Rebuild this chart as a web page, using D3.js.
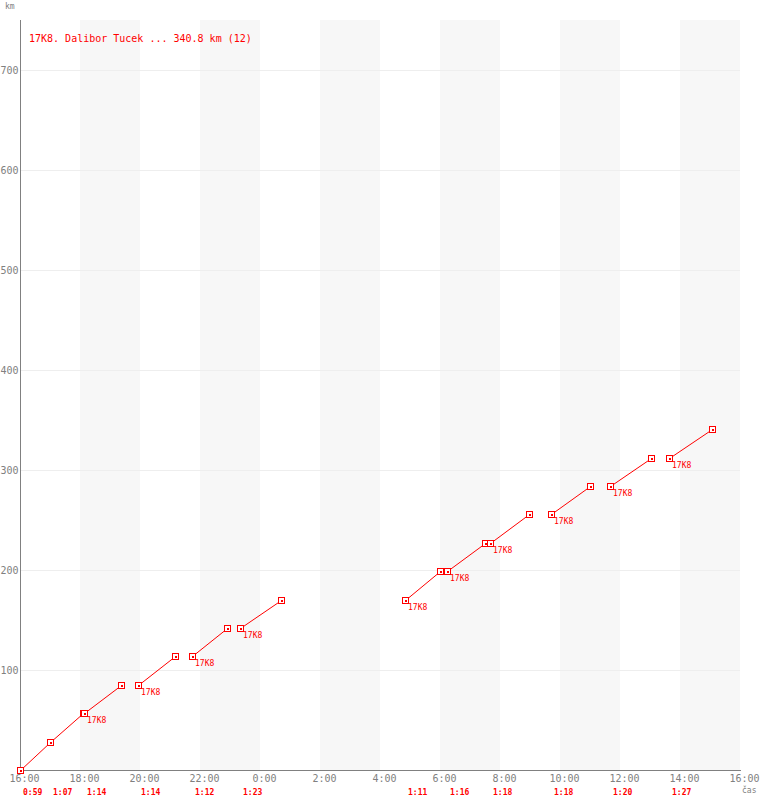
<!DOCTYPE html>
<html>
<head>
<meta charset="utf-8">
<script src="https://cdn.jsdelivr.net/npm/d3@7"></script>
<style>
  html, body { margin: 0; padding: 0; background: #fff; }
  svg { display: block; }
  text { font-family: "DejaVu Sans Mono", "Liberation Mono", monospace; }
</style>
</head>
<body>
<svg id="chart" width="760" height="800"></svg>
<script>
// ---- data ----
const title = "17K8. Dalibor Tucek ... 340.8 km (12)";
const pointLabel = "17K8";
const lapStarts = ["16:00","16:59","18:07","19:55","21:43","23:19","4:49","6:13","7:39","9:41","11:41","13:37"];
const lapTimes  = ["0:59","1:07","1:14","1:14","1:12","1:23","1:11","1:16","1:18","1:18","1:20","1:27"];
const lapStartKm = [0, 28.4, 56.8, 85.2, 113.6, 142.0, 170.4, 198.8, 227.2, 255.6, 284.0, 312.4];
const lapEndKm   = [28.4, 56.8, 85.2, 113.6, 142.0, 170.4, 198.8, 227.2, 255.6, 284.0, 312.4, 340.8];
const xTickLabels = ["16:00","18:00","20:00","22:00","0:00","2:00","4:00","6:00","8:00","10:00","12:00","14:00","16:00"];
const yTicks = [100, 200, 300, 400, 500, 600, 700];
const shadedBands = [["18:00","20:00"],["22:00","0:00"],["2:00","4:00"],["6:00","8:00"],["10:00","12:00"],["14:00","16:00"]];

// ---- helpers ----
function toDate(s, isEnd) {
  const [h, m] = s.split(":").map(Number);
  const day = (h < 16 || (isEnd && h === 16 && m === 0)) ? 2 : 1;
  return new Date(2000, 0, day, h, m);
}
function durMin(s) { const [h, m] = s.split(":").map(Number); return h * 60 + m; }

const mLeft = 20, mRight = 740, mTop = 20, mBottom = 770;
const x = d3.scaleTime()
  .domain([new Date(2000,0,1,16,0), new Date(2000,0,2,16,0)])
  .range([mLeft, mRight]);
const y = d3.scaleLinear().domain([0, 750]).range([mBottom, mTop]);

const svg = d3.select("#chart");
const red = "#ff0000", gray = "#808080";

// shaded bands
svg.append("g").selectAll("rect").data(shadedBands).join("rect")
  .attr("x", d => x(toDate(d[0], false)))
  .attr("y", mTop)
  .attr("width", d => x(toDate(d[1], true)) - x(toDate(d[0], false)))
  .attr("height", mBottom - mTop)
  .attr("fill", "#f7f7f7");

// gridlines
svg.append("g").selectAll("line").data(yTicks).join("line")
  .attr("x1", mLeft + 1).attr("x2", mRight)
  .attr("y1", d => Math.round(y(d)) + 0.5).attr("y2", d => Math.round(y(d)) + 0.5)
  .attr("stroke", "#eeeeee").attr("stroke-width", 1);

// axes
const yAxis = d3.axisLeft(y).tickValues(yTicks).tickSize(0).tickPadding(2);
const gy = svg.append("g").attr("transform", `translate(${mLeft + 0.5},0)`).call(yAxis);
gy.select(".domain").attr("stroke", gray).attr("d", `M0,${mTop}V${mBottom}`);
gy.selectAll("text").attr("fill", gray).attr("font-size", 10)
  .attr("font-family", "DejaVu Sans Mono, monospace");

const xTickDates = xTickLabels.map((s, i) => toDate(s, i === xTickLabels.length - 1));
const xAxis = d3.axisBottom(x).tickValues(xTickDates).tickSize(0).tickPadding(4)
  .tickFormat((d, i) => xTickLabels[i]);
const gx = svg.append("g").attr("transform", `translate(0,${mBottom + 0.5})`).call(xAxis);
gx.select(".domain").attr("stroke", gray).attr("d", `M${mLeft},0H${mRight + 1}`);
gx.selectAll("text").attr("fill", gray).attr("font-size", 10).attr("dx", 4)
  .attr("font-family", "DejaVu Sans Mono, monospace");

// laps
const laps = lapStarts.map((s, i) => {
  const t0 = toDate(s, false);
  const t1 = new Date(t0.getTime() + durMin(lapTimes[i]) * 60000);
  return { t0, t1, k0: lapStartKm[i], k1: lapEndKm[i], time: lapTimes[i], i };
});
laps.forEach((d, i) => {
  d.newGroup = i > 0 && laps[i - 1].t1.getTime() !== d.t0.getTime();
});

const px = v => Math.round(v) + 0.5;
const gLaps = svg.append("g");
gLaps.selectAll("line").data(laps).join("line")
  .attr("x1", d => px(x(d.t0))).attr("y1", d => px(y(d.k0)))
  .attr("x2", d => px(x(d.t1))).attr("y2", d => px(y(d.k1)))
  .attr("stroke", red).attr("stroke-width", 1);

const pts = [];
laps.forEach(d => {
  if (d.i === 0 || d.newGroup) pts.push({ t: d.t0, k: d.k0 });
  pts.push({ t: d.t1, k: d.k1 });
});
const gp = gLaps.append("g").attr("shape-rendering", "crispEdges")
  .selectAll("g").data(pts).join("g")
  .attr("transform", d => `translate(${Math.round(x(d.t))},${Math.round(y(d.k))})`);
gp.append("rect").attr("x", -2.5).attr("y", -2.5).attr("width", 6).attr("height", 6)
  .attr("fill", "#fff").attr("stroke", red).attr("stroke-width", 1);
gp.append("rect").attr("x", 0).attr("y", 0).attr("width", 2).attr("height", 2).attr("fill", red);

// 17K8 labels at starts of new groups
gLaps.append("g").selectAll("text").data(laps.filter(d => d.newGroup)).join("text")
  .attr("x", d => Math.round(x(d.t0)) + 3)
  .attr("y", d => Math.round(y(d.k0)) + 10)
  .attr("fill", red).attr("font-size", 8)
  .text(pointLabel);

// lap time labels
svg.append("g").selectAll("text").data(laps).join("text")
  .attr("x", d => Math.round(x(d.t0)) + 3)
  .attr("y", 795)
  .attr("fill", red).attr("font-size", 8).attr("font-weight", "bold")
  .text(d => d.time);

// title / axis names
svg.append("text").attr("x", 29).attr("y", 42).attr("fill", red).attr("font-size", 10).text(title);
svg.append("text").attr("x", 5).attr("y", 9).attr("fill", gray).attr("font-size", 8).text("km");
svg.append("text").attr("x", 742).attr("y", 793).attr("fill", gray).attr("font-size", 8).text("čas");
</script>
</body>
</html>
